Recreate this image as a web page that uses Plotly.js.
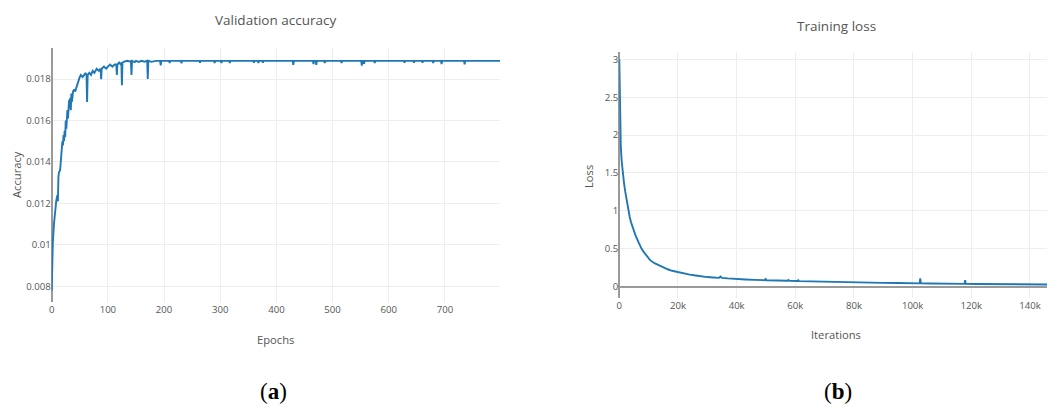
<!DOCTYPE html>
<html>
<head>
<meta charset="utf-8">
<script src="https://cdn.plot.ly/plotly-3.0.1.min.js"></script>
<style>
  html, body { margin: 0; padding: 0; background: #fff; }
  #chart { width: 1047px; height: 408px; }
</style>
</head>
<body>
<div id="chart"></div>
<script>
// ---- Panel (a): validation accuracy per epoch ----
const epochs = [
  0, 1, 2, 4, 6, 8, 10, 11, 12, 13,
  15, 17, 18, 19, 20, 21, 22, 23, 24, 25,
  26, 27, 28, 29, 30, 31, 32, 33, 34, 35,
  36, 38, 40, 42, 44, 46, 48, 50, 52, 55,
  58, 60, 62, 63, 64, 67, 70, 73, 76, 80,
  84, 87, 88, 89, 93, 97, 100, 104, 108, 112,
  115, 116, 117, 120, 123, 124, 125, 126, 130, 135,
  140, 141, 142, 143, 148, 150, 155, 160, 165, 170,
  171, 172, 178, 185, 193, 194, 195,
  209, 210, 211, 230, 231, 232, 263, 264, 265,
  289, 290, 291, 301, 302, 303, 316, 317, 318,
  359, 360, 361, 367, 368, 369, 375, 376, 377,
  429, 430, 431, 465, 466, 467, 470, 471, 472,
  485, 486, 487, 515, 516, 517, 551, 552, 553,
  555, 556, 557, 574, 575, 576, 627, 628, 629,
  644, 645, 646, 659, 660, 661, 678, 679, 680,
  693, 694, 695, 734, 735, 736, 799
];
const accuracy = [
  0.0078, 0.0100, 0.0101, 0.0110, 0.0117, 0.0121, 0.0124, 0.0121, 0.0133, 0.0135,
  0.0136, 0.0142, 0.0148, 0.0150, 0.0148, 0.0153, 0.0150, 0.0155, 0.0152, 0.0160,
  0.0156, 0.0162, 0.0165, 0.0161, 0.0166, 0.0170, 0.0166, 0.0171, 0.0165, 0.0173,
  0.0169, 0.0174, 0.0175, 0.0174, 0.0176, 0.0178, 0.0180, 0.0181, 0.0182, 0.0181,
  0.0182, 0.0183, 0.0182, 0.0169, 0.0182, 0.0183, 0.0182, 0.0184, 0.0183, 0.0185,
  0.0184, 0.0185, 0.0180, 0.0185, 0.0186, 0.0185, 0.0186, 0.0187, 0.0186, 0.0187,
  0.0187, 0.0182, 0.0187, 0.0188, 0.0187, 0.0188, 0.0177, 0.0188, 0.01885, 0.01888,
  0.01884, 0.01888, 0.0182, 0.01888, 0.01882, 0.01888, 0.01883, 0.01888, 0.01884, 0.01888,
  0.0180, 0.01888, 0.01883, 0.01888, 0.01888, 0.01866, 0.01888,
  0.01888, 0.01878, 0.01888, 0.01888, 0.01876, 0.01888, 0.01888, 0.01879, 0.01888,
  0.01888, 0.01877, 0.01888, 0.01888, 0.01878, 0.01888, 0.01888, 0.01877, 0.01888,
  0.01888, 0.01879, 0.01888, 0.01888, 0.01878, 0.01888, 0.01888, 0.01879, 0.01888,
  0.01888, 0.01868, 0.01888, 0.01888, 0.01872, 0.01888, 0.01888, 0.01868, 0.01888,
  0.01888, 0.01877, 0.01888, 0.01888, 0.01878, 0.01888, 0.01888, 0.01865, 0.01888,
  0.01888, 0.01874, 0.01888, 0.01888, 0.01878, 0.01888, 0.01888, 0.01879, 0.01888,
  0.01888, 0.01879, 0.01888, 0.01888, 0.01879, 0.01888, 0.01888, 0.01878, 0.01888,
  0.01888, 0.01872, 0.01888, 0.01888, 0.01871, 0.01888, 0.01888
];

// ---- Panel (b): training loss per iteration ----
const iterations = [
  0, 100, 200, 300, 500, 800, 1200, 1600, 2000, 2500, 3000,
  3500, 4000, 4800, 5500, 6500, 7600, 8500, 9500, 10500, 12000,
  13500, 15000, 16500, 18000, 19500, 21000, 22500, 24000, 26000, 28000,
  30000, 32000, 34000, 34500, 35000, 37000, 40000, 43000, 46000, 49600,
  49900, 50200, 54000, 57400, 57600, 58000, 60800, 61000, 61300, 65000,
  70000, 75000, 80000, 85000, 90000, 95000, 100000, 102400, 102600, 102800,
  106000, 110000, 114000, 117700, 117900, 118100, 122000, 126000, 130000, 135000,
  140000, 146000
];
const loss = [
  3.00, 2.70, 2.35, 2.10, 1.86, 1.66, 1.49, 1.37, 1.26, 1.13, 1.01,
  0.93, 0.85, 0.75, 0.68, 0.59, 0.50, 0.45, 0.40, 0.35, 0.31,
  0.28, 0.25, 0.23, 0.21, 0.195, 0.18, 0.168, 0.16, 0.148, 0.135,
  0.127, 0.122, 0.117, 0.135, 0.117, 0.110, 0.100, 0.095, 0.090, 0.086,
  0.100, 0.085, 0.082, 0.078, 0.088, 0.077, 0.075, 0.085, 0.074, 0.070,
  0.065, 0.060, 0.056, 0.053, 0.050, 0.048, 0.045, 0.044, 0.110, 0.044,
  0.042, 0.040, 0.038, 0.037, 0.088, 0.037, 0.036, 0.035, 0.034, 0.033,
  0.031, 0.030
];

const W = 1047, H = 408;
const px = v => v / W;
const py = v => 1 - v / H;
const textColor = '#555';
const gridColor = '#eeeeee';
const zeroColor = '#9a9a9a';
const tickFont = { family: 'Open Sans, sans-serif', size: 9.6, color: textColor };

const traces = [
  { x: epochs, y: accuracy, type: 'scatter', mode: 'lines', xaxis: 'x', yaxis: 'y',
    line: { color: '#1f77b4', width: 1.9 }, hoverinfo: 'x+y' },
  { x: iterations, y: loss, type: 'scatter', mode: 'lines', xaxis: 'x2', yaxis: 'y2',
    line: { color: '#1f77b4', width: 1.9 }, hoverinfo: 'x+y' }
];

const baseAxis = {
  showgrid: true, gridcolor: gridColor, gridwidth: 1,
  zeroline: true, zerolinecolor: zeroColor, zerolinewidth: 1.6,
  showline: false, ticks: '', tickfont: tickFont
};

const layout = {
  width: W, height: H,
  margin: { l: 0, r: 0, t: 0, b: 0 },
  paper_bgcolor: '#fff', plot_bgcolor: '#fff',
  showlegend: false,
  font: { family: 'Open Sans, sans-serif', color: textColor },
  xaxis: Object.assign({}, baseAxis, {
    domain: [px(51.7), px(500)], anchor: 'y',
    range: [0, 798], dtick: 100, tick0: 0
  }),
  yaxis: Object.assign({}, baseAxis, {
    domain: [py(302), py(48)], anchor: 'x',
    range: [0.00724, 0.0195], dtick: 0.002, tick0: 0
  }),
  xaxis2: Object.assign({}, baseAxis, {
    domain: [px(619.3), 1], anchor: 'y2',
    range: [0, 145800], dtick: 20000, tick0: 0
  }),
  yaxis2: Object.assign({}, baseAxis, {
    domain: [py(298.3), py(52.3)], anchor: 'x2',
    range: [-0.153, 3.092], dtick: 0.5, tick0: 0
  }),
  annotations: [
    { text: 'Validation accuracy', x: px(276), y: py(20), font: { size: 13.5, color: textColor } },
    { text: 'Training loss', x: px(836), y: py(26), font: { size: 13.5, color: textColor } },
    { text: 'Epochs', x: px(276), y: py(339), font: { size: 11.2, color: textColor } },
    { text: 'Iterations', x: px(836), y: py(334), font: { size: 11.2, color: textColor } },
    { text: 'Accuracy', x: px(16), y: py(175), textangle: -90, font: { size: 11.2, color: textColor } },
    { text: 'Loss', x: px(588), y: py(177), textangle: -90, font: { size: 11.2, color: textColor } },
    { text: '(<b>a</b>)', x: px(273), y: py(391), font: { family: 'Liberation Serif, serif', size: 23, color: '#000' } },
    { text: '(<b>b</b>)', x: px(838), y: py(391), font: { family: 'Liberation Serif, serif', size: 23, color: '#000' } }
  ].map(a => Object.assign({ xref: 'paper', yref: 'paper', showarrow: false,
                            xanchor: 'center', yanchor: 'middle' }, a))
};

Plotly.newPlot('chart', traces, layout, { displayModeBar: false, staticPlot: true });
</script>
</body>
</html>
